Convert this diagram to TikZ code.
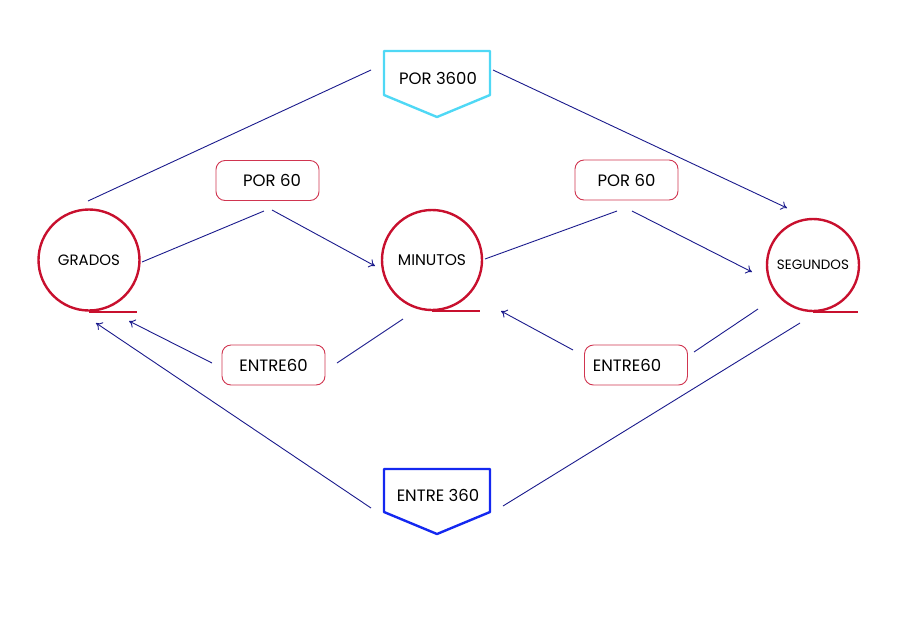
\documentclass[tikz,border=0pt]{standalone}
\usepackage{fontspec}
\setmainfont{Poppins}
\usetikzlibrary{arrows.meta}
\definecolor{ringred}{HTML}{C8102E}
\definecolor{boxred}{HTML}{D03550}
\definecolor{navy}{HTML}{1A1A8C}
\definecolor{cyanline}{HTML}{4FD8F5}
\definecolor{blueline}{HTML}{1428F0}
\tikzset{
  ring/.style={circle, draw=ringred, line width=2.4pt, inner sep=0pt},
  tail/.style={draw=ringred, line width=2.4pt},
  opbox/.style={draw=boxred, line width=0.9pt, rounded corners=9pt, minimum width=103pt, minimum height=40pt, inner sep=2pt, font=\fontsize{16.5}{18}\selectfont},
  link/.style={draw=navy, line width=0.9pt},
  linkarrow/.style={link, -{To[length=6pt,width=9pt]}},
  pentlabel/.style={font=\fontsize{16.5}{18}\selectfont, inner sep=0pt}
}
\begin{document}
\begin{tikzpicture}[x=1pt, y=-1pt]
  \useasboundingbox (0,0) rectangle (903,622);

  % unit circles
  \node[ring, minimum size=101pt, font=\fontsize{15}{17}\selectfont] (grados) at (89,260) {GRADOS};
  \node[ring, minimum size=100pt, font=\fontsize{15.5}{17}\selectfont] (minutos) at (432,260) {MINUTOS};
  \node[ring, minimum size=92pt, font=\fontsize{13.5}{15}\selectfont] (segundos) at (813,265) {SEGUNDOS};
  \draw[tail] (grados.south) -- ++(48,0);
  \draw[tail] (minutos.south) -- ++(48,0);
  \draw[tail] (segundos.south) -- ++(45,0);

  % pentagon labels
  \node[pentlabel] (por3600) at (438,78) {POR 3600};
  \draw[cyanline, line width=2.4pt, line join=round]
    (384,51) -- (490,51) -- (490,95) -- (437,117) -- (384,95) -- cycle;
  \node[pentlabel] (entre360) at (438,495) {ENTRE 360};
  \draw[blueline, line width=2.4pt, line join=round]
    (384,469) -- (490,469) -- (490,512) -- (437,534) -- (384,512) -- cycle;

  % conversion boxes
  \node[opbox] (por60a) at (267.5,180.5) {\kern9pt POR 60};
  \node[opbox] (por60b) at (626.5,180) {POR 60};
  \node[opbox] (entre60a) at (273.5,365) {ENTRE60};
  \node[opbox] (entre60b) at (636,365) {ENTRE60\kern18pt\relax};

  % end points of the connectors
  \coordinate (g1) at (88,201);   \coordinate (p1) at (371,70);
  \coordinate (p2) at (493,70);   \coordinate (s1) at (787,208);
  \coordinate (g2) at (142,262);  \coordinate (a1) at (264,211);
  \coordinate (a2) at (272,210);  \coordinate (m1) at (375,266);
  \coordinate (m2) at (485,259);  \coordinate (b1) at (617,211);
  \coordinate (b2) at (632,211);  \coordinate (s2) at (752,272);
  \coordinate (m3) at (403,319);  \coordinate (c1) at (337,363);
  \coordinate (c2) at (212,363);  \coordinate (g3) at (129,321);
  \coordinate (s3) at (758,309);  \coordinate (d1) at (694,352);
  \coordinate (d2) at (573,350);  \coordinate (m4) at (501,311);
  \coordinate (s4) at (800,323);  \coordinate (e1) at (503,506);
  \coordinate (e2) at (371,508);  \coordinate (g4) at (96,323);

  % connectors
  \draw[link] (g1) -- (p1);
  \draw[linkarrow] (p2) -- (s1);
  \draw[link] (g2) -- (a1);
  \draw[linkarrow] (a2) -- (m1);
  \draw[link] (m2) -- (b1);
  \draw[linkarrow] (b2) -- (s2);
  \draw[link] (m3) -- (c1);
  \draw[linkarrow] (c2) -- (g3);
  \draw[link] (s3) -- (d1);
  \draw[linkarrow] (d2) -- (m4);
  \draw[link] (s4) -- (e1);
  \draw[linkarrow] (e2) -- (g4);
\end{tikzpicture}
\end{document}
